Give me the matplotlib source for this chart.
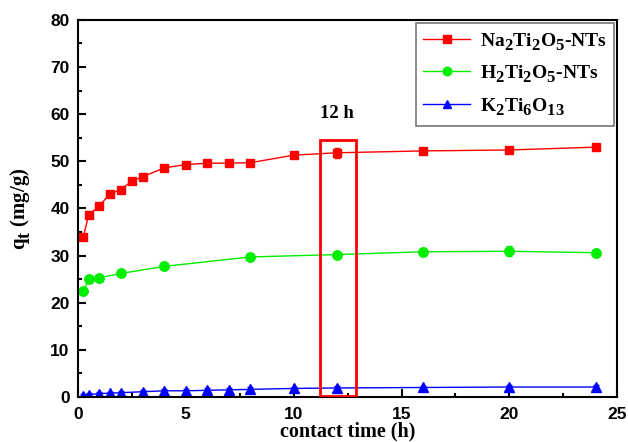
import numpy as np
import matplotlib.pyplot as plt
import matplotlib._mathtext as mathtext_impl
from matplotlib.patches import Rectangle
from matplotlib.ticker import MultipleLocator

plt.rcParams['mathtext.fontset'] = 'custom'
plt.rcParams['mathtext.rm'] = 'Liberation Serif:bold'
plt.rcParams['mathtext.it'] = 'Liberation Serif:bold'
plt.rcParams['mathtext.bf'] = 'Liberation Serif:bold'
# larger, lower subscripts for the chemical formulas
mathtext_impl.SHRINK_FACTOR = 0.85
mathtext_impl.FontConstantsBase.sub1 = 0.55
mathtext_impl.FontConstantsBase.sub2 = 0.65

# adsorption capacity vs contact time
t_na = [0.25, 0.5, 1, 1.5, 2, 2.5, 3, 4, 5, 6, 7, 8, 10, 12, 16, 20, 24]
q_na = [33.9, 38.6, 40.6, 43.1, 44.0, 45.8, 46.7, 48.6, 49.3, 49.6, 49.6, 49.7, 51.3, 51.8, 52.2, 52.4, 53.0]
e_na = [0.3, 0.2, 0.2, 0.2, 0.2, 0.2, 0.2, 0.3, 0.2, 0.2, 0.2, 0.2, 0.3, 1.0, 0.7, 0.6, 0.3]

t_h = [0.25, 0.5, 1, 2, 4, 8, 12, 16, 20, 24]
q_h = [22.4, 25.0, 25.3, 26.2, 27.7, 29.7, 30.2, 30.8, 30.9, 30.6]
e_h = [0.3, 0.3, 0.3, 0.3, 0.3, 0.3, 0.3, 0.9, 1.1, 0.4]

t_k = [0.25, 0.5, 1, 1.5, 2, 3, 4, 5, 6, 7, 8, 10, 12, 16, 20, 24]
q_k = [0.3, 0.5, 0.7, 0.8, 0.9, 1.1, 1.3, 1.3, 1.4, 1.5, 1.6, 1.8, 1.9, 2.0, 2.1, 2.1]
e_k = [0.3, 0.3, 0.3, 0.3, 0.3, 0.4, 0.4, 0.4, 0.4, 0.4, 0.4, 0.4, 0.4, 0.4, 0.4, 0.4]

series = [
    (t_na, q_na, e_na, '#ff0000', 's', 6.0, 'Na$_2$Ti$_2$O$_5$-NTs'),
    (t_h, q_h, e_h, '#00ee00', 'o', 6.8, 'H$_2$Ti$_2$O$_5$-NTs'),
    (t_k, q_k, e_k, '#0000ff', '^', 7.0, 'K$_2$Ti$_6$O$_{13}$'),
]

fig = plt.figure(figsize=(6.28, 4.42), dpi=100)
ax = fig.add_axes([0.124, 0.102, 0.859, 0.853])

handles = []
for t, q, e, c, m, ms, lab in series:
    ax.errorbar(t, q, yerr=e, fmt='none', ecolor=c, capsize=2.5, elinewidth=1)
    h, = ax.plot(t, q, color=c, marker=m, ms=ms, lw=1, label=lab)
    handles.append(h)

# highlight the 12 h sample
ax.add_patch(Rectangle((11.2, 0.3), 1.7, 54.3, fill=False, ec='#ff0000', lw=2, zorder=5))
ax.text(12.0, 58.3, '12 h', ha='center', va='bottom', fontsize=13.5,
        family='Liberation Serif', fontweight='bold')

ax.set_xlim(0, 25)
ax.set_ylim(0, 80)
ax.xaxis.set_major_locator(MultipleLocator(5))
ax.xaxis.set_minor_locator(MultipleLocator(2.5))
ax.yaxis.set_major_locator(MultipleLocator(10))
ax.yaxis.set_minor_locator(MultipleLocator(5))
ax.tick_params(which='both', direction='in', width=1.5, labelsize=12.5)
ax.tick_params(which='major', length=6)
ax.tick_params(which='minor', length=3)
ax.tick_params(axis='x', which='major', pad=7)
ax.tick_params(axis='y', which='major', pad=6)
for lab in ax.get_xticklabels() + ax.get_yticklabels():
    lab.set_family('Liberation Sans')
    lab.set_fontweight('bold')
for sp in ax.spines.values():
    sp.set_linewidth(1.5)

ax.set_xlabel('contact time (h)', fontsize=14.5, family='Liberation Serif',
              fontweight='bold', labelpad=0)
ax.set_ylabel('q$_t$ (mg/g)', fontsize=15, family='Liberation Serif',
              fontweight='bold', labelpad=12)

leg = ax.legend(handles=handles, loc='upper right', fancybox=False, edgecolor='#555555',
                prop={'family': 'Liberation Serif', 'weight': 'bold', 'size': 14},
                handlelength=2.4, handletextpad=0.5, borderaxespad=0.15,
                labelspacing=0.55, markerscale=0.9)
leg.get_frame().set_linewidth(1.2)

fig.savefig('out.png', dpi=100)
